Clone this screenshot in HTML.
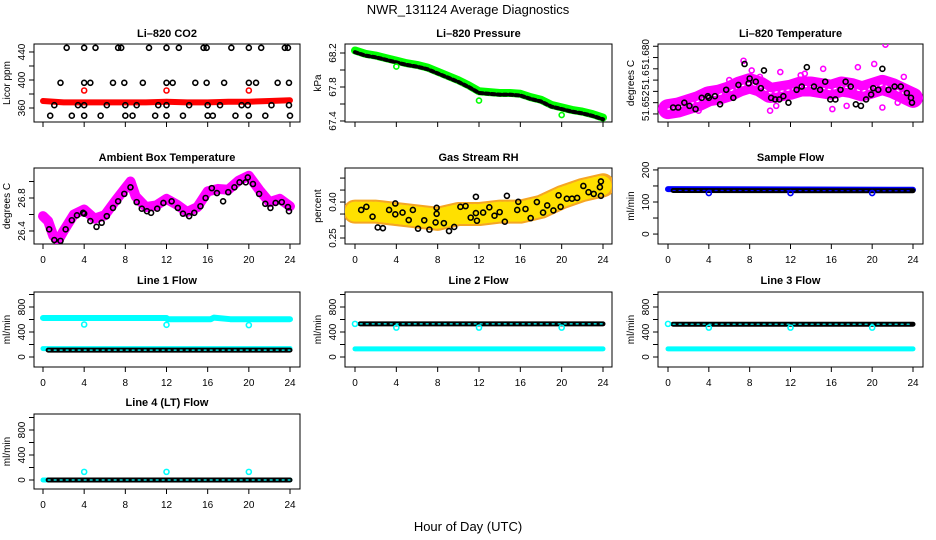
<!DOCTYPE html>
<html><head><meta charset="utf-8"><style>
body{margin:0;background:#fff;}
svg{display:block;font-family:"Liberation Sans",sans-serif;}
</style></head><body>
<svg id="c" width="936" height="540">
<text x="468" y="14" text-anchor="middle" font-size="13">NWR_131124  Average Diagnostics</text>
<text x="468" y="531" text-anchor="middle" font-size="13">Hour of Day (UTC)</text>
</svg>
<script>
// ---- data ----
const xTicks=[0,4,8,12,16,20,24];
const co2BlackHours=[2.3,4,5.1,7.3,7.6,10.3,12,13.2,15.6,15.9,18.3,20,21.2,23.5,23.8, 1.7,4,4.6,6.8,7.9,9.7,12,12.6,14.8,15.9,17.6,20,20.7,22.8,23.9, 1.1,3.4,4,6.2,8,9.1,11.2,12,14.2,16,17.2,19.3,19.9,22.2,23.9, 0.7,2.8,4,5.6,8,8.7,10.9,12,13.6,16,16.5,18.7,20,21.6,24];
const co2BlackVals=[446,446,446,446,446,446,446,446,446,446,446,446,446,446,446, 396,396,396,396,396,396,396,396,396,396,396,396,396,396,396, 364,364,364,364,364,364,364,364,364,364,364,364,364,364,364, 349,349,349,349,349,349,349,349,349,349,349,349,349,349,349];
const co2RedHours=[0,2,4,6,8,10,12,14,16,18,20,22,24];
const co2RedVals=[370,368,368,368,368,368,369,368,368,369,369,370,371];
const co2RedOutHours=[4,12,20];
const co2RedOutVals=[385,385,385];
const presHours=[0,1,2,3,4,5,6,7,8,9,10,11,12,13,14,15,16,17,18,19,20,21,22,23,24];
const presGreen=[68.23,68.19,68.17,68.14,68.11,68.08,68.06,68.03,67.98,67.93,67.88,67.82,67.75,67.74,67.73,67.73,67.72,67.68,67.65,67.59,67.56,67.53,67.51,67.48,67.44];
const presBlack=[68.21,68.17,68.15,68.12,68.09,68.06,68.04,68.01,67.96,67.91,67.86,67.80,67.73,67.72,67.71,67.71,67.70,67.66,67.63,67.57,67.54,67.51,67.49,67.46,67.42];
const presOutHours=[4,12,20];
const presOutVals=[68.04,67.64,67.47];
const tempHours=[0,1,2,3,4,5,6,7,8,9,10,11,12,13,14,15,16,17,18,19,20,21,22,23,24];
const tempMagenta=[51.648,51.649,51.651,51.653,51.656,51.657,51.659,51.662,51.664,51.662,51.658,51.659,51.660,51.662,51.662,51.661,51.660,51.662,51.661,51.659,51.661,51.663,51.661,51.658,51.655];
const tempMagOutHours=[7.4,8.2,11.0,13.4,15.2,18.6,20.2,21.3,23.1,10.0,10.6,0.7,3.0,16.1,21.0,6.0,9.0,13.0,17.5,22.5];
const tempMagOutVals=[51.678,51.672,51.671,51.670,51.673,51.674,51.676,51.688,51.668,51.647,51.650,51.645,51.647,51.648,51.649,51.666,51.668,51.669,51.650,51.652];
const tempBlackHours=[0.5,1,1.6,2.1,2.7,3.3,3.9,4.0,4.6,5.1,5.7,6.4,6.9,7.5,7.9,8.0,8.6,9.1,9.4,10.1,10.5,10.9,11.3,11.8,12.6,13.1,13.6,14.3,14.9,15.4,15.9,16.4,16.9,17.4,17.9,18.4,18.9,19.4,19.9,20.1,20.6,21.0,21.6,22.2,22.8,23.4,23.8,23.9];
const tempBlackVals=[51.649,51.649,51.652,51.650,51.648,51.655,51.656,51.655,51.656,51.651,51.660,51.655,51.663,51.676,51.664,51.667,51.665,51.661,51.672,51.655,51.654,51.654,51.656,51.652,51.660,51.662,51.674,51.662,51.660,51.665,51.654,51.654,51.660,51.665,51.662,51.651,51.650,51.654,51.657,51.661,51.660,51.673,51.660,51.662,51.662,51.658,51.655,51.652];
const ambHours=[0,0.5,1,1.5,2,3,4,5,6,7,8,8.5,9,10,11,12,13,14,15,16,17,18,19,20,21,22,23,24];
const ambMagenta=[26.58,26.52,26.34,26.29,26.40,26.60,26.66,26.55,26.59,26.76,26.92,27.00,26.82,26.69,26.71,26.79,26.72,26.63,26.69,26.88,26.91,26.90,27.01,27.07,26.90,26.75,26.79,26.70];
const ambBlackHours=[0.6,1.1,1.7,2.2,2.8,3.3,3.9,4.0,4.6,5.2,5.7,6.2,6.8,7.3,7.9,8.5,9.1,9.6,10.1,10.5,11.1,11.7,12.5,13.1,13.6,14.2,14.7,15.3,15.8,16.4,16.9,17.5,18.0,18.6,19.1,19.7,19.9,20.4,21.0,21.6,22.1,22.6,23.2,23.8,23.9];
const ambBlackVals=[26.42,26.29,26.28,26.42,26.53,26.59,26.62,26.61,26.52,26.45,26.50,26.58,26.68,26.76,26.85,26.93,26.75,26.67,26.64,26.62,26.67,26.74,26.76,26.68,26.61,26.58,26.62,26.70,26.80,26.92,26.86,26.76,26.87,26.93,26.99,26.99,27.05,26.97,26.85,26.73,26.68,26.74,26.75,26.69,26.64];
const rhHours=[0,2,4,6,8,10,12,14,16,18,20,22,24];
const rhOrange=[0.36,0.36,0.35,0.34,0.33,0.35,0.35,0.36,0.36,0.38,0.42,0.45,0.47];
const rhBlackHours=[0.6,1.1,1.7,2.2,2.7,3.3,3.9,3.9,4.6,5.2,5.6,6.1,6.7,7.2,7.8,7.9,7.9,8.6,9.1,9.6,10.2,10.7,11.2,11.7,11.7,11.8,12.4,13.0,13.5,14.0,14.5,14.7,15.7,15.8,16.5,17.0,17.6,18.2,18.6,19.2,19.7,19.9,20.5,21.0,21.5,22.1,22.6,23.1,23.7,23.8,23.8];
const rhBlackVals=[0.367,0.380,0.339,0.294,0.291,0.367,0.394,0.349,0.356,0.325,0.367,0.289,0.324,0.285,0.315,0.351,0.376,0.312,0.279,0.296,0.380,0.383,0.335,0.354,0.422,0.322,0.356,0.378,0.343,0.358,0.318,0.426,0.367,0.401,0.371,0.333,0.400,0.356,0.386,0.365,0.428,0.380,0.414,0.414,0.417,0.467,0.441,0.434,0.462,0.486,0.426];
const flowHours=[0,24];
const sampBlue=[140,138];
const sampBlack=[136,135];
const outHours=[4,12,20];
const sampOut=[128,128,128];
const l1CyanHiHours=[0,12,12.1,16.3,16.6,18.2,24];
const l1CyanHiVals=[625,625,605,605,630,605,605];
const l1CyanLo=[135,135];
const l1Black=[110,110];
const l1Out=[520,515,510];
const l2Black=[530,530];
const l2Cyan=[130,130];
const l2Out=[470,470,470];
const l3Black=[525,525];
const l3Cyan=[130,130];
const l3Out=[470,470,470];
const l4Black=[0,0];
const l4Cyan=[0,0];
const l4Out=[130,130,130];

// ---- drawing ----
const svg=document.getElementById('c');
const NS='http://www.w3.org/2000/svg';
function mk(tag,attrs,parent){const e=document.createElementNS(NS,tag);for(const k in attrs)e.setAttribute(k,attrs[k]);(parent||svg).appendChild(e);return e;}
const cols=[{l:34,r:300,x0:43,x24:290,lab:10},{l:345,r:612,x0:355,x24:603,lab:321},{l:658,r:923,x0:668,x24:913,lab:634}];
const rows=[{t:44,b:122,tt:37},{t:168,b:244,tt:161},{t:292,b:367,tt:284},{t:414,b:489,tt:406}];
function panel(name,ci,ri,title,ylab,ymin,ymax,ticks,labels,showX){
  const c=cols[ci],r=rows[ri];
  const g=mk('g',{});
  
  
  const sx=h=>c.x0+h*(c.x24-c.x0)/24;
  const sy=v=>r.t+(ymax-v)/(ymax-ymin)*(r.b-r.t);
  const box=mk('rect',{x:c.l,y:r.t,width:c.r-c.l,height:r.b-r.t,fill:'none',stroke:'#000','stroke-width':1},g);
  
  
  const tt=mk('text',{x:(c.l+c.r)/2,y:r.tt,'text-anchor':'middle','font-size':11,'font-weight':'bold'},g);
  tt.textContent=title;
  
  
  const yl=mk('text',{x:c.lab,y:(r.t+r.b)/2,'text-anchor':'middle','font-size':10,transform:'rotate(-90 '+c.lab+' '+((r.t+r.b)/2)+')'},g);
  yl.textContent=ylab;
  
  
  ticks.forEach(v=>{const y=sy(v);const tk=mk('line',{x1:c.l-5,x2:c.l,y1:y,y2:y,stroke:'#000'},g);
    
    });
  labels.forEach(L=>{const y=sy(L[0]);const lx=c.l-9;
    const t=mk('text',{x:lx,y:y,'text-anchor':'middle','font-size':10,transform:'rotate(-90 '+lx+' '+y+')'},g);
    t.textContent=L[1];
    
    });
  xTicks.forEach(h=>{const x=sx(h);const tk=mk('line',{x1:x,x2:x,y1:r.b,y2:r.b+5,stroke:'#000'},g);
    
    
    if(showX){const t=mk('text',{x:x,y:r.b+19,'text-anchor':'middle','font-size':10},g);t.textContent=h;
      
      }});
  const clip='clip'+name;const cp=mk('clipPath',{id:clip},g);mk('rect',{x:c.l,y:r.t,width:c.r-c.l,height:r.b-r.t},cp);
  const pg=mk('g',{'clip-path':'url(#'+clip+')'},g);
  
  
  return {sx,sy,g:pg};
}
function pts(P,hs,vs,color,nm,r){hs.forEach((h,i)=>{const e=mk('circle',{cx:P.sx(h),cy:P.sy(vs[i]),r:r||2.5,fill:'none',stroke:color,'stroke-width':1.6},P.g);
  
  });}
function band(P,hs,vs,color,w,nm,dash){const d=hs.map((h,i)=>P.sx(h)+','+P.sy(vs[i])).join(' ');
  const e=mk('polyline',{points:d,fill:'none',stroke:color,'stroke-width':w,'stroke-linejoin':'round','stroke-linecap':'round'},P.g);
  if(dash)e.setAttribute('stroke-dasharray',dash);
  
  }

// CO2
let P=panel('co2',0,0,'Li\u2013820 CO2','Licor ppm',340,451.4,[360,380,400,420,440],[[360,'360'],[400,'400'],[440,'440']],false);
band(P,co2RedHours,co2RedVals,'#ff0000',6,'co2-red-band');
pts(P,co2RedOutHours,co2RedOutVals,'#ff0000','co2-red-outlier');
pts(P,co2BlackHours,co2BlackVals,'#000','co2-black-point');
// Pressure
P=panel('pressure',1,0,'Li\u2013820 Pressure','kPa',67.388,68.306,[67.4,67.6,67.8,68.0,68.2],[[67.4,'67.4'],[67.8,'67.8'],[68.2,'68.2']],false);
band(P,presHours,presGreen,'#00ff00',8,'pressure-green-band');
band(P,presHours,presBlack,'#000',4,'pressure-black-band','3 3');
pts(P,presOutHours,presOutVals,'#00ff00','pressure-outlier');
// Temperature
P=panel('temperature',2,0,'Li\u2013820 Temperature','degrees C',51.640,51.6884,[51.645,51.652,51.659,51.666,51.673,51.680,51.687],[[51.682,'51.680'],[51.666,'51.6'],[51.650,'51.652']],false);
band(P,tempHours,tempMagenta,'#ff00ff',20,'temperature-magenta-band');
band(P,tempHours,tempMagenta,'#ffffff',1.2,'temperature-band-texture','2 4');
pts(P,tempMagOutHours,tempMagOutVals,'#ff00ff','temperature-magenta-point');
pts(P,tempBlackHours,tempBlackVals,'#000','temperature-black-point');
// Ambient
P=panel('ambient',0,1,'Ambient Box Temperature','degrees C',26.242,27.164,[26.4,26.6,26.8,27.0],[[26.4,'26.4'],[26.8,'26.8']],true);
band(P,ambHours,ambMagenta,'#ff00ff',10,'ambient-magenta-band');
pts(P,ambBlackHours,ambBlackVals,'#000','ambient-black-point');
// RH
P=panel('rh',1,1,'Gas Stream RH','percent',0.225,0.542,[0.25,0.30,0.35,0.40,0.45,0.50],[[0.25,'0.25'],[0.40,'0.40']],true);
band(P,rhHours,rhOrange,'#f5a623',24,'rh-orange-band');
band(P,rhHours,rhOrange,'#ffe000',20,'rh-yellow-speckle','2 3');
pts(P,rhBlackHours,rhBlackVals,'#000','rh-black-point');
// Sample flow
P=panel('sample-flow',2,1,'Sample Flow','ml/min',-31,206,[0,50,100,150,200],[[0,'0'],[100,'100'],[200,'200']],true);
band(P,flowHours,sampBlue,'#0000ff',6,'sample-blue-band');
band(P,[0.5,24],sampBlack,'#000',5,'sample-black-band');
band(P,[0.5,24],sampBlack,'#0000ff',1.2,'sample-black-texture','2 4');
pts(P,outHours,sampOut,'#0000ff','sample-outlier');
// Line flows
const fT=[0,200,400,600,800,1000],fL=[[0,'0'],[400,'400'],[800,'800']];
P=panel('line1',0,2,'Line 1 Flow','ml/min',-160,1040,fT,fL,true);
band(P,l1CyanHiHours,l1CyanHiVals,'#00ffff',6,'line1-cyan-high');
band(P,flowHours,l1CyanLo,'#00ffff',5,'line1-cyan-low');
band(P,[0.5,24],l1Black,'#000',5,'line1-black-band');
band(P,[0.5,24],l1Black,'#00ffff',1.2,'line1-black-texture','2 4');
pts(P,outHours,l1Out,'#00ffff','line1-outlier');
P=panel('line2',1,2,'Line 2 Flow','ml/min',-160,1040,fT,fL,true);
band(P,flowHours,l2Cyan,'#00ffff',5,'line2-cyan-band');
band(P,[0.5,24],l2Black,'#000',5,'line2-black-band');
band(P,[0.5,24],l2Black,'#00ffff',1.2,'line2-black-texture','2 4');
pts(P,[0],[530],'#00ffff','line2-start-point');
pts(P,outHours,l2Out,'#00ffff','line2-outlier');
P=panel('line3',2,2,'Line 3 Flow','ml/min',-160,1040,fT,fL,true);
band(P,flowHours,l3Cyan,'#00ffff',5,'line3-cyan-band');
band(P,[0.5,24],l3Black,'#000',5,'line3-black-band');
band(P,[0.5,24],l3Black,'#00ffff',1.2,'line3-black-texture','2 4');
pts(P,[0],[530],'#00ffff','line3-start-point');
pts(P,outHours,l3Out,'#00ffff','line3-outlier');
P=panel('line4',0,3,'Line 4 (LT) Flow','ml/min',-144,1056,fT,fL,true);
band(P,flowHours,l4Cyan,'#00ffff',5,'line4-cyan-band');
band(P,[0.5,24],l4Black,'#000',5,'line4-black-band');
band(P,[0.5,24],l4Black,'#00ffff',1.2,'line4-black-texture','2 4');
pts(P,outHours,l4Out,'#00ffff','line4-outlier');
</script>
</body></html>
